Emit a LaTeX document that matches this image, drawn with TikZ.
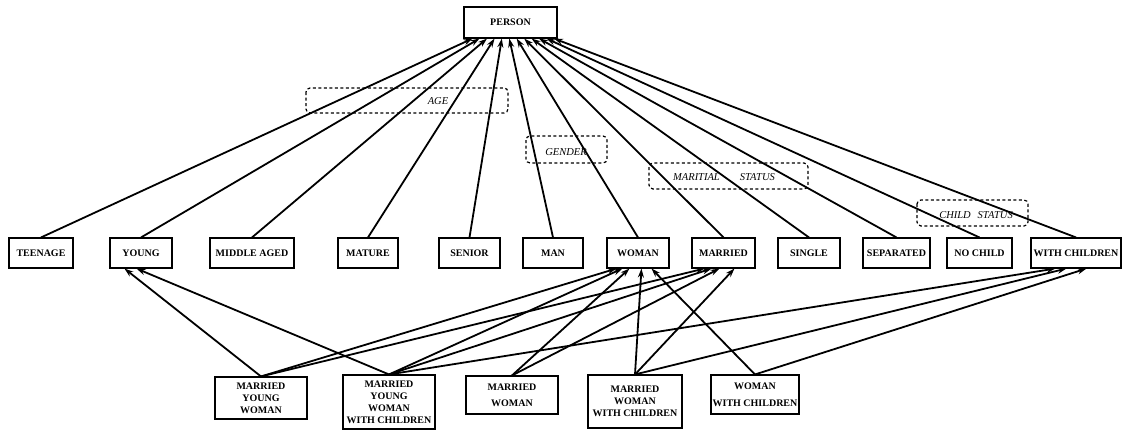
\documentclass[tikz,border=0pt]{standalone}
\usepackage{fontspec}
\setmainfont{Liberation Serif}
\usetikzlibrary{arrows.meta,calc}
\begin{document}
\begin{tikzpicture}[x=1pt,y=-1pt,
  box/.style={draw,line width=1.1pt,rectangle,inner sep=0pt,align=center,
    font=\fontsize{10}{12}\selectfont\bfseries},
  group/.style={draw,line width=1.2pt,dash pattern=on 3pt off 2.5pt,rounded corners=4pt},
  grouplabel/.style={font=\fontsize{10.5}{12}\selectfont\itshape,inner sep=0pt},
  link/.style={line width=1.8pt,-{Stealth[length=9pt,width=6pt]}},
]
\useasboundingbox (0,0) rectangle (1125,429);

% root concept
\node[box,minimum width=93pt,minimum height=31pt] (person) at (510.5,22.5) {PERSON};

% classifying concepts
\node[box,minimum width=64pt,minimum height=30pt] (teen)    at (41,253)    {TEENAGE};
\node[box,minimum width=62pt,minimum height=30pt] (young)   at (141,253)   {YOUNG};
\node[box,minimum width=84pt,minimum height=30pt] (midage)  at (252,253)   {MIDDLE AGED};
\node[box,minimum width=60pt,minimum height=30pt] (mature)  at (368,253)   {MATURE};
\node[box,minimum width=61pt,minimum height=30pt] (senior)  at (469.5,253) {SENIOR};
\node[box,minimum width=60pt,minimum height=30pt] (man)     at (553,253)   {MAN};
\node[box,minimum width=62pt,minimum height=30pt] (woman)   at (638,253)   {WOMAN};
\node[box,minimum width=63pt,minimum height=30pt] (married) at (723.5,253) {MARRIED};
\node[box,minimum width=62pt,minimum height=30pt] (single)  at (809,253)   {SINGLE};
\node[box,minimum width=67pt,minimum height=30pt] (sep)     at (896.5,253) {SEPARATED};
\node[box,minimum width=65pt,minimum height=30pt] (nochild) at (979.5,253) {NO CHILD};
\node[box,minimum width=90pt,minimum height=30pt] (withch)  at (1076,253)  {WITH CHILDREN};

% combined concepts
\node[box,minimum width=92pt,minimum height=42pt] (myw)   at (261,398)   {MARRIED\\YOUNG\\WOMAN};
\node[box,minimum width=92pt,minimum height=54pt] (mywwc) at (389,402)   {MARRIED\\YOUNG\\WOMAN\\WITH CHILDREN};
\node[box,minimum width=92pt,minimum height=38pt] (mw)    at (512,395)   {MARRIED\\[4pt]WOMAN};
\node[box,minimum width=94pt,minimum height=53pt] (mwwc)  at (635,401.5) {MARRIED\\WOMAN\\WITH CHILDREN};
\node[box,minimum width=88pt,minimum height=39pt] (wwc)   at (755,394.5) {WOMAN\\[5pt]WITH CHILDREN};

% dimension groups
\draw[group] (306,88) rectangle (508,113);
\node[grouplabel] (agelbl) at (438,101) {AGE};
\draw[group] (526,136) rectangle (607,163);
\node[grouplabel] (genderlbl) at (566,152) {GENDER};
\draw[group] (649,163) rectangle (808,189);
\node[grouplabel] (maritallbl) at (724,177) {MARITIAL\hspace{20pt}STATUS};
\draw[group] (917,200) rectangle (1028,226);
\node[grouplabel] (childlbl) at (976,215) {CHILD\hspace{7pt}STATUS};

% is-a links to the root
\foreach \n/\dx in {teen/-38,young/-31,midage/-23.5,mature/-16,senior/-8.7,man/-1.2,
                    woman/6.2,married/13.7,single/21.1,sep/28.5,nochild/36,withch/43.5}
  \draw[link] (\n.north) -- ($(person.south)+(\dx,0)$);

% is-a links from the combined concepts
\draw[link] (myw.north)   -- ($(young.south west)+(15,0)$);
\draw[link] (mywwc.north) -- ($(young.south west)+(27,0)$);

\draw[link] (myw.north)   -- ($(woman.south west)+(10,0)$);
\draw[link] (mywwc.north) -- ($(woman.south west)+(16,0)$);
\draw[link] (mw.north)    -- ($(woman.south west)+(23,0)$);
\draw[link] (mwwc.north)  -- ($(woman.south west)+(35,0)$);
\draw[link] (wwc.north)   -- ($(woman.south west)+(45,0)$);

\draw[link] (myw.north)   -- ($(married.south west)+(13,0)$);
\draw[link] (mywwc.north) -- ($(married.south west)+(20,0)$);
\draw[link] (mw.north)    -- ($(married.south west)+(28,0)$);
\draw[link] (mwwc.north)  -- ($(married.south west)+(43,0)$);

\draw[link] (mywwc.north) -- ($(withch.south west)+(25,0)$);
\draw[link] (mwwc.north)  -- ($(withch.south west)+(36,0)$);
\draw[link] (wwc.north)   -- ($(withch.south west)+(56,0)$);
\end{tikzpicture}
\end{document}
